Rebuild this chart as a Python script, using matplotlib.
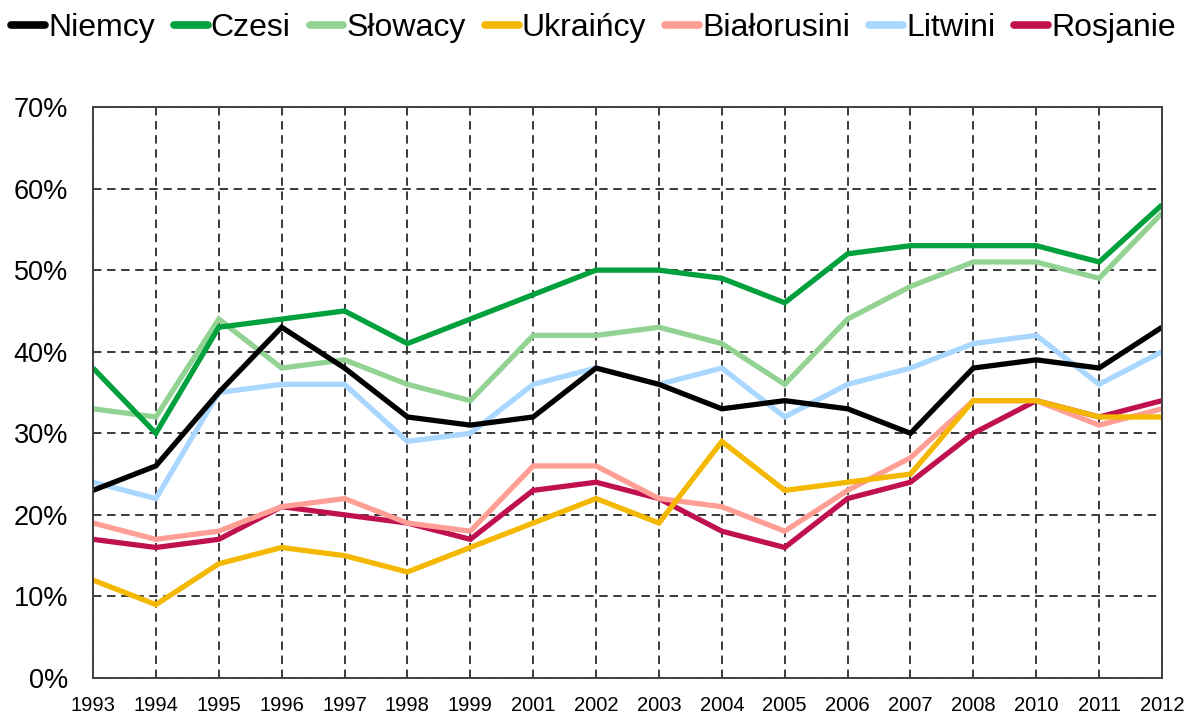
import matplotlib
matplotlib.use("Agg")
import matplotlib.pyplot as plt
from matplotlib.ticker import FuncFormatter

plt.rcParams['font.family'] = ['Liberation Sans', 'DejaVu Sans']

years = ["1993", "1994", "1995", "1996", "1997", "1998", "1999", "2001", "2002",
         "2003", "2004", "2005", "2006", "2007", "2008", "2010", "2011", "2012"]

niemcy = [23, 26, 35, 43, 38, 32, 31, 32, 38, 36, 33, 34, 33, 30, 38, 39, 38, 43]
czesi = [38, 30, 43, 44, 45, 41, 44, 47, 50, 50, 49, 46, 52, 53, 53, 53, 51, 58]
slowacy = [33, 32, 44, 38, 39, 36, 34, 42, 42, 43, 41, 36, 44, 48, 51, 51, 49, 57]
ukraincy = [12, 9, 14, 16, 15, 13, 16, 19, 22, 19, 29, 23, 24, 25, 34, 34, 32, 32]
bialorusini = [19, 17, 18, 21, 22, 19, 18, 26, 26, 22, 21, 18, 23, 27, 34, 34, 31, 33]
litwini = [24, 22, 35, 36, 36, 29, 30, 36, 38, 36, 38, 32, 36, 38, 41, 42, 36, 40]
rosjanie = [17, 16, 17, 21, 20, 19, 17, 23, 24, 22, 18, 16, 22, 24, 30, 34, 32, 34]

series_names = ["Niemcy", "Czesi", "Słowacy", "Ukraińcy", "Białorusini", "Litwini", "Rosjanie"]
series_values = [niemcy, czesi, slowacy, ukraincy, bialorusini, litwini, rosjanie]
colors = ["#000000", "#00A03C", "#92D394", "#F5B800", "#FF9E94", "#A9D7FF", "#C0104F"]

fig = plt.figure(figsize=(11.87, 7.17), dpi=100)
ax = fig.add_axes([93 / 1187, 1 - 678 / 717, (1162 - 93) / 1187, (678 - 107) / 717])

x = list(range(len(years)))
n = len(series_names)
for i, (name, vals, c) in enumerate(zip(series_names, series_values, colors)):
    ax.plot(x, vals, color=c, lw=3.8, label=name, zorder=10 + (n - i),
            solid_capstyle='butt', solid_joinstyle='miter')

ax.set_xlim(0, len(years) - 1)
ax.set_ylim(0, 70)
ax.set_xticks(x)
ax.set_xticklabels(years, fontsize=14.5)
ax.set_yticks(range(0, 71, 10))
ax.yaxis.set_major_formatter(FuncFormatter(lambda v, p: f"{int(v)}%"))
ax.tick_params(axis='y', labelsize=19.5, length=0, pad=18)
ax.tick_params(axis='x', length=0, pad=13)

ax.grid(True, color="#333333", linestyle=(0, (4.5, 3)), linewidth=1.35, zorder=1)
ax.set_axisbelow(True)
for s in ax.spines.values():
    s.set_color("#404040")
    s.set_linewidth(1.4)
    s.set_zorder(20)

leg = fig.legend(loc='center', bbox_to_anchor=(0.5, 1 - 28 / 717), ncol=7,
                 frameon=False, fontsize=23, handlelength=1.05, handletextpad=0.1,
                 columnspacing=0.6, borderaxespad=0, borderpad=0)
for line in leg.get_lines():
    line.set_linewidth(5.5)
    line.set_solid_capstyle('round')

fig.savefig("out.png", dpi=100)
